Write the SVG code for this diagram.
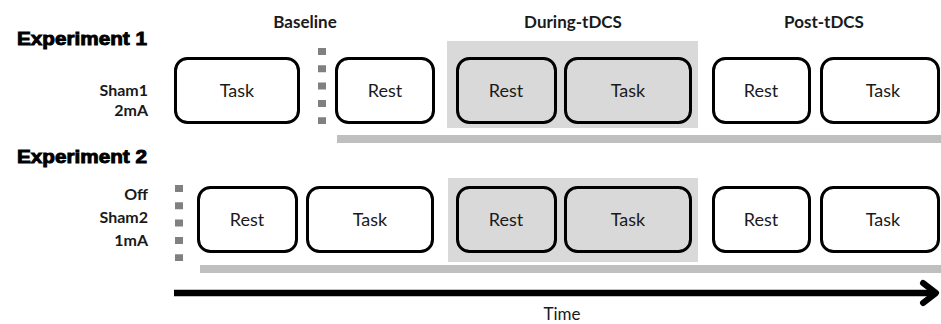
<svg xmlns="http://www.w3.org/2000/svg" width="941" height="324" viewBox="0 0 941 324">
<style>
  .box { fill: #ffffff; stroke: #000000; stroke-width: 3; }
  .gbox { fill: #d9d9d9; stroke: #000000; stroke-width: 3; }
  .shade { fill: #d9d9d9; }
  .bar { fill: #bfbfbf; }
  .lbl { font-family: Lato, "Liberation Sans", sans-serif; font-size: 18px; fill: #1a1a1a; text-anchor: middle; }
  .phase { font-family: Lato, "Liberation Sans", sans-serif; font-size: 17px; font-weight: bold; fill: #1a1a1a; text-anchor: middle; }
  .cond { font-family: Lato, "Liberation Sans", sans-serif; font-size: 16px; font-weight: bold; fill: #1a1a1a; text-anchor: end; }
  .exp { font-family: "Liberation Sans", Arial, sans-serif; font-size: 18px; font-weight: bold; fill: #000; stroke: #000; stroke-width: 0.9; }
  .dash { stroke: #808080; stroke-width: 8; stroke-dasharray: 7 10.3; fill: none; }
  .axis { stroke: #000; stroke-width: 6.5; fill: none; }
  .head { stroke: #000; stroke-width: 6; fill: none; stroke-linecap: round; stroke-linejoin: round; }
</style>

<!-- phase headers -->
<text class="phase" x="305" y="28">Baseline</text>
<text class="phase" x="573" y="28">During-tDCS</text>
<text class="phase" x="824" y="28">Post-tDCS</text>

<!-- Experiment labels -->
<text class="exp" x="17" y="45" textLength="130" lengthAdjust="spacingAndGlyphs">Experiment 1</text>
<text class="exp" x="17" y="163" textLength="130" lengthAdjust="spacingAndGlyphs">Experiment 2</text>
<text class="cond" x="148" y="96">Sham1</text>
<text class="cond" x="148" y="116">2mA</text>
<text class="cond" x="148" y="200">Off</text>
<text class="cond" x="148" y="223">Sham2</text>
<text class="cond" x="148" y="246">1mA</text>

<!-- shading -->
<rect class="shade" x="447" y="41" width="251" height="87"/>
<rect class="shade" x="448" y="178" width="250" height="84"/>

<!-- connectors / timeline bars -->
<g id="connectors">
  <line class="dash" x1="322" y1="48" x2="322" y2="124"/>
  <line class="dash" x1="179" y1="185" x2="179" y2="261"/>
  <rect class="bar" x="337" y="135" width="604" height="8"/>
  <rect class="bar" x="200" y="265" width="741" height="8"/>
  <line class="axis" x1="174" y1="293" x2="935" y2="293"/>
  <path class="head" d="M923,283 L936,293 L923,303"/>
</g>
<text class="lbl" x="562" y="320" style="font-size:17px">Time</text>

<!-- Experiment 1 -->
<g id="e1-task-baseline"><rect class="box" x="175.5" y="58.5" width="123" height="64" rx="12"/><text class="lbl" x="237" y="97">Task</text></g>
<g id="e1-rest-baseline"><rect class="box" x="336.5" y="58.5" width="97" height="64" rx="12"/><text class="lbl" x="385" y="97">Rest</text></g>
<g id="e1-rest-during"><rect class="gbox" x="457.5" y="58.5" width="98" height="64" rx="12"/><text class="lbl" x="506" y="97">Rest</text></g>
<g id="e1-task-during"><rect class="gbox" x="565.5" y="58.5" width="125" height="64" rx="12"/><text class="lbl" x="628" y="97">Task</text></g>
<g id="e1-rest-post"><rect class="box" x="713.5" y="58.5" width="96" height="64" rx="12"/><text class="lbl" x="761" y="97">Rest</text></g>
<g id="e1-task-post"><rect class="box" x="821.5" y="58.5" width="117" height="64" rx="12"/><text class="lbl" x="883" y="97">Task</text></g>

<!-- Experiment 2 -->
<g id="e2-rest-baseline"><rect class="box" x="198.5" y="187.5" width="98" height="64" rx="12"/><text class="lbl" x="247" y="226">Rest</text></g>
<g id="e2-task-baseline"><rect class="box" x="307.5" y="187.5" width="125" height="64" rx="12"/><text class="lbl" x="370" y="226">Task</text></g>
<g id="e2-rest-during"><rect class="gbox" x="457.5" y="187.5" width="98" height="64" rx="12"/><text class="lbl" x="506" y="226">Rest</text></g>
<g id="e2-task-during"><rect class="gbox" x="565.5" y="187.5" width="125" height="64" rx="12"/><text class="lbl" x="628" y="226">Task</text></g>
<g id="e2-rest-post"><rect class="box" x="713.5" y="187.5" width="96" height="64" rx="12"/><text class="lbl" x="761" y="226">Rest</text></g>
<g id="e2-task-post"><rect class="box" x="821.5" y="187.5" width="117" height="64" rx="12"/><text class="lbl" x="883" y="226">Task</text></g>
</svg>
